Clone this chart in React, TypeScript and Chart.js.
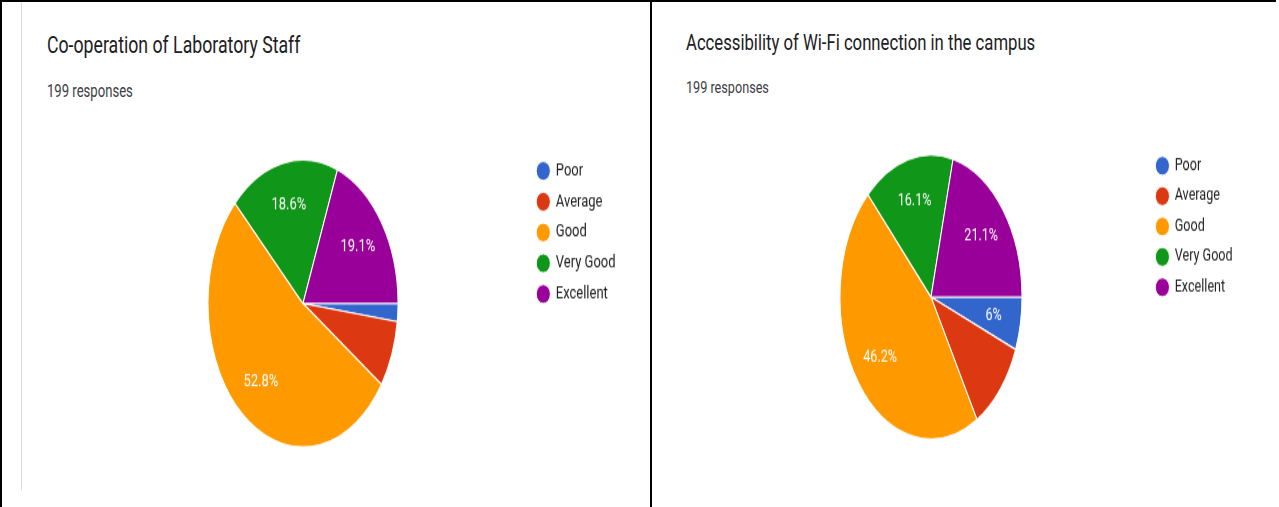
import React, { useEffect, useRef } from "react";
import { Chart, registerables } from "chart.js";

Chart.register(...registerables);

// ---------- data ----------
const categories = ["Poor", "Average", "Good", "Very Good", "Excellent"];
const labCounts = [4, 15, 105, 37, 38];
const wifiCounts = [12, 21, 92, 32, 42];
const labShowPct = [false, false, true, true, true];
const wifiShowPct = [true, false, true, true, true];
const sliceColors = ["#3366cc", "#dc3912", "#ff9900", "#109618", "#990099"];
const labTitle = "Co-operation of Laboratory Staff";
const wifiTitle = "Accessibility of Wi-Fi connection in the campus";
const labResponses = "199 responses";
const wifiResponses = "199 responses";

// vertical stretch of the whole screenshot
const STRETCH = 1.35;

const piePlugin = {
  id: "piePlace",
  afterLayout(chart: any, _a: any, opts: any) {
    const a = chart.chartArea;
    const r = opts.r + 4;
    a.left = opts.cx - r;
    a.right = opts.cx + r;
    a.top = opts.cy - r;
    a.bottom = opts.cy + r;
    a.width = 2 * r;
    a.height = 2 * r;
    const lg = chart.legend;
    if (lg) {
      const w = lg.width;
      const h = lg.height;
      lg.left = opts.lx;
      lg.right = opts.lx + w;
      lg.top = opts.ly;
      lg.bottom = opts.ly + h;
    }
  },
  beforeDatasetsDraw(chart: any, _a: any, opts: any) {
    const el = chart.getDatasetMeta(0).data[0];
    const ctx = chart.ctx;
    ctx.save();
    ctx.translate(el.x, el.y);
    ctx.scale(1, opts.k);
    ctx.translate(-el.x, -el.y);
  },
  afterDatasetsDraw(chart: any, _a: any, opts: any) {
    const ctx = chart.ctx;
    ctx.restore();
    const meta = chart.getDatasetMeta(0);
    const data: number[] = chart.data.datasets[0].data;
    const total = data.reduce((s, v) => s + v, 0);
    ctx.save();
    ctx.font = `${opts.fs}px Roboto`;
    ctx.fillStyle = "#ffffff";
    ctx.textAlign = "center";
    ctx.textBaseline = "middle";
    meta.data.forEach((el: any, i: number) => {
      if (!opts.show[i]) return;
      const mid = (el.startAngle + el.endAngle) / 2;
      const px = el.x + Math.cos(mid) * el.outerRadius * 0.7;
      const py = el.y + Math.sin(mid) * el.outerRadius * 0.7 * opts.k;
      const pct = Math.round((data[i] / total) * 1000) / 10;
      ctx.fillText(`${pct}%`, px, py);
    });
    ctx.restore();
  },
};

type PanelProps = {
  left: number;
  width: number;
  counts: number[];
  show: boolean[];
  cx: number;
  cy: number;
  r: number;
  k: number;
  lx: number;
  ly: number;
  fs: number;
  pad: number;
};

function PiePanel(p: PanelProps) {
  const ref = useRef<HTMLCanvasElement | null>(null);
  const h = Math.round(507 / STRETCH);
  useEffect(() => {
    if (!ref.current) return;
    const chart = new Chart(ref.current, {
      type: "pie",
      data: {
        labels: categories,
        datasets: [
          {
            data: p.counts,
            backgroundColor: sliceColors,
            borderColor: "#ffffff",
            borderWidth: 1,
            radius: p.r,
          } as any,
        ],
      },
      options: {
        responsive: false,
        animation: false,
        rotation: 90,
        layout: { padding: 0 },
        plugins: {
          tooltip: { enabled: false },
          legend: {
            display: true,
            position: "right",
            align: "start",
            labels: {
              usePointStyle: true,
              pointStyle: "circle",
              boxWidth: 12,
              boxHeight: 10,
              padding: p.pad,
              color: "#222222",
              font: { family: "Roboto", size: p.fs },
            },
          },
          piePlace: { cx: p.cx, cy: p.cy, r: p.r, k: p.k, lx: p.lx, ly: p.ly, show: p.show, fs: p.fs },
        } as any,
      },
      plugins: [piePlugin],
    });
    return () => chart.destroy();
  }, []);
  return (
    <div
      style={{
        position: "absolute",
        left: p.left,
        top: 0,
        width: p.width,
        height: h,
        transform: `scaleY(${STRETCH})`,
        transformOrigin: "0 0",
      }}
    >
      <canvas ref={ref} width={p.width} height={h} style={{ display: "block", width: p.width, height: h }} />
    </div>
  );
}

function Text(props: { x: number; y: number; size: number; lh: number; color: string; children: string }) {
  return (
    <div
      style={{
        position: "absolute",
        left: props.x,
        top: props.y,
        fontFamily: "Roboto",
        fontSize: props.size,
        lineHeight: `${props.lh}px`,
        color: props.color,
        whiteSpace: "nowrap",
        transform: `scaleY(${STRETCH})`,
        transformOrigin: "0 0",
      }}
    >
      {props.children}
    </div>
  );
}

export default function App() {
  return (
    <div
      style={{
        position: "fixed",
        left: 0,
        top: 0,
        width: 1279,
        height: 507,
        background: "#ffffff",
        overflow: "hidden",
      }}
    >
      {/* table borders */}
      <div style={{ position: "absolute", left: 0, top: 0, width: 1276, height: 2, background: "#000" }} />
      <div style={{ position: "absolute", left: 0, top: 0, width: 2, height: 507, background: "#000" }} />
      <div style={{ position: "absolute", left: 650, top: 0, width: 2, height: 507, background: "#000" }} />
      {/* card edge */}
      <div style={{ position: "absolute", left: 21, top: 2, width: 1, height: 488, background: "#dadce0" }} />

      <Text x={47} y={31.3} size={17.7} lh={20} color="#202124">{labTitle}</Text>
      <Text x={47} y={81.2} size={13.1} lh={16} color="#3c4043">{labResponses}</Text>
      <Text x={686} y={30.3} size={16.7} lh={20} color="#202124">{wifiTitle}</Text>
      <Text x={686} y={77.2} size={12.65} lh={16} color="#3c4043">{wifiResponses}</Text>

      <PiePanel
        left={22}
        width={626}
        counts={labCounts}
        show={labShowPct}
        cx={281}
        cy={224.8}
        r={95}
        k={1.119}
        lx={505.5}
        ly={110.3}
        fs={13}
        pad={9.8}
      />
      <PiePanel
        left={653}
        width={626}
        counts={wifiCounts}
        show={wifiShowPct}
        cx={278}
        cy={220}
        r={91}
        k={1.156}
        lx={493.5}
        ly={106.6}
        fs={12.6}
        pad={9.9}
      />
    </div>
  );
}
